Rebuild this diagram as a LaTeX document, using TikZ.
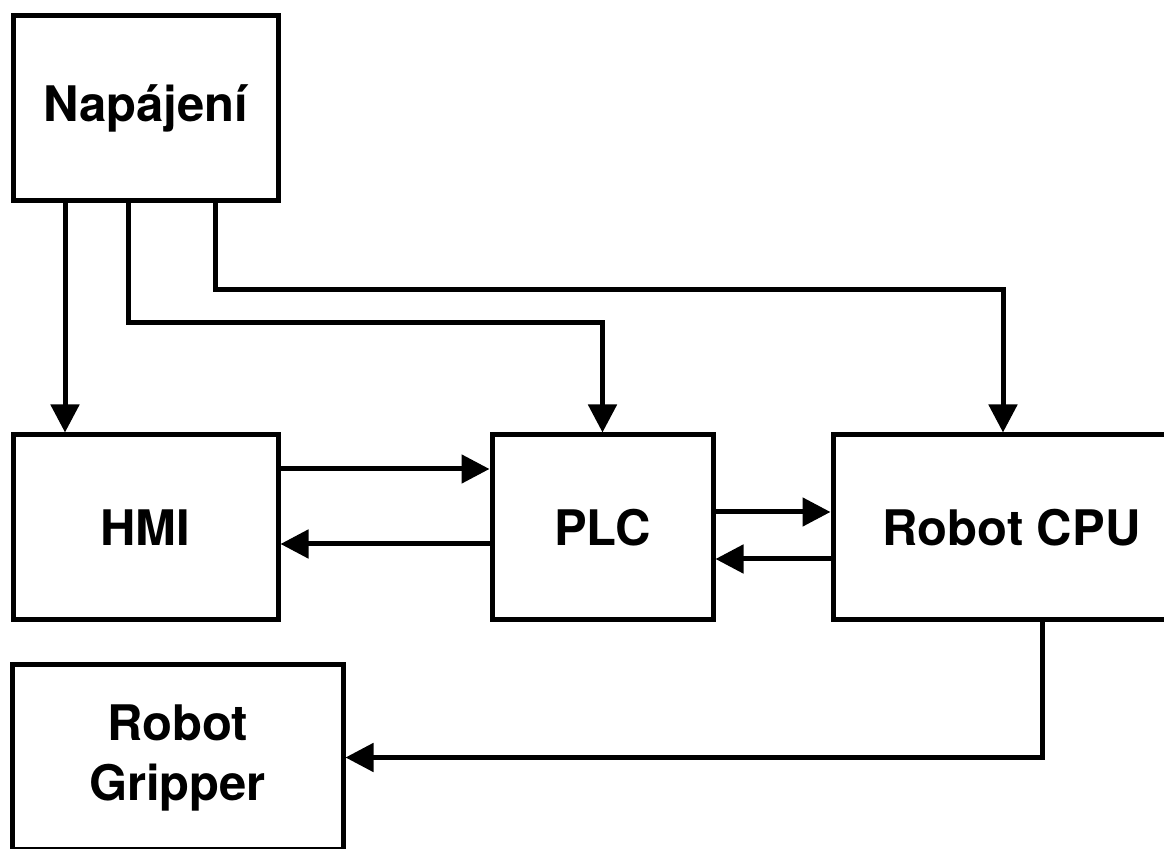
\documentclass[tikz,border=0pt]{standalone}
\usepackage{fontspec}
\setmainfont{TeX Gyre Heros}
\usetikzlibrary{arrows.meta}
\begin{document}
% 1 unit = 0.5pt, y axis pointing down
\begin{tikzpicture}[x=0.5pt,y=-0.5pt,
  block/.style={draw=black, line width=2.5pt, fill=white, inner sep=0pt,
    align=center, font=\fontsize{24.5pt}{30pt}\selectfont\bfseries},
  link/.style={line width=2.5pt, -{Triangle[length=14pt,width=14pt]}}]
  \useasboundingbox (0,0) rectangle (1164,849);
  \clip (0,0) rectangle (1164,849);

  % blocks
  \node[block, minimum width=132.5pt, minimum height=92.5pt] (nap) at (145.5,108.5) {Napájení};
  \node[block, minimum width=132.5pt, minimum height=92.5pt] (hmi) at (145.5,527.5) {HMI};
  \node[block, minimum width=110.5pt, minimum height=92.5pt] (plc) at (602.5,527.5) {PLC};
  \node[block, minimum width=178.5pt, minimum height=92.5pt] (cpu) at (1011.5,527.5) {Robot CPU};
  \node[block, minimum width=165.5pt, minimum height=92.5pt] (grip) at (177.5,757.5) {Robot\\Gripper};

  % bend points of the power lines
  \coordinate (p1) at (65,0);
  \coordinate (p2) at (128,323);
  \coordinate (p3) at (215,290);
  \coordinate (p4) at (1003,0);
  \coordinate (p5) at (1042,757.5);

  % power distribution
  \draw[link] (nap.south -| p1) -- (hmi.north -| p1);
  \draw[link] (nap.south -| p2) |- (p2 -| plc.north) -- (plc.north);
  \draw[link] (nap.south -| p3) |- (p3 -| p4) -- (cpu.north -| p4);

  % communication
  \coordinate (h1) at (0,469);
  \coordinate (h2) at (0,544);
  \coordinate (c1) at (0,512);
  \coordinate (c2) at (0,559);
  \draw[link] (hmi.east |- h1) -- (plc.west |- h1);
  \draw[link] (plc.west |- h2) -- (hmi.east |- h2);
  \draw[link] (plc.east |- c1) -- (cpu.west |- c1);
  \draw[link] (cpu.west |- c2) -- (plc.east |- c2);

  % robot CPU to gripper
  \draw[link] (cpu.south -| p5) |- (grip.east);
\end{tikzpicture}
\end{document}
